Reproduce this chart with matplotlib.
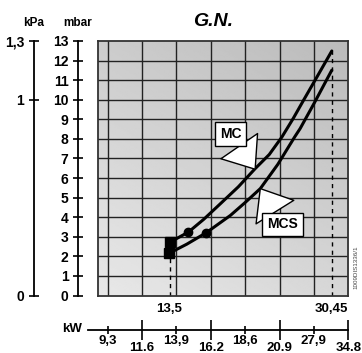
import numpy as np
import matplotlib
matplotlib.use("Agg")
import matplotlib.pyplot as plt

plt.rcParams['font.family'] = ['Liberation Sans', 'DejaVu Sans']
plt.rcParams['font.weight'] = 'bold'

# bottom kW scale is not linear, labels just sit on the grid columns
kw_pos_top = [0, 2, 4, 6]
kw_lab_top = ["9,3", "13,9", "18,6", "27,9"]
kw_pos_bot = [1, 3, 5, 7]
kw_lab_bot = ["11.6", "16.2", "20.9", "34.8"]

mbar_ticks = list(range(0, 14))
kpa_ticks = [0, 1, 1.3]
kpa_labels = ["0", "1", "1,3"]

# marks (x = grid column, y = mbar)
kw_min_pos, kw_min_lab = 1.80, "13,5"
kw_max_pos, kw_max_lab = 6.52, "30,45"

mc_x = [1.82, 2.35, 2.80, 3.28, 3.80, 4.29, 4.70, 5.07, 5.40, 5.70, 6.10, 6.52]
mc_y = [2.73, 3.24, 3.90, 4.69, 5.55, 6.48, 7.20, 8.10, 9.05, 9.98, 11.20, 12.49]
mcs_x = [1.79, 2.30, 2.87, 3.57, 4.00, 4.44, 4.95, 5.44, 5.60, 6.00, 6.52]
mcs_y = [2.16, 2.62, 3.21, 4.09, 4.75, 5.46, 6.70, 8.10, 8.53, 9.80, 11.51]
mc_dot = (2.35, 3.24)
mcs_dot = (2.87, 3.21)

W, H = 362, 353
fig = plt.figure(figsize=(W/100, H/100), dpi=100)

def fx(px): return px / W
def fy(py): return 1 - py / H

L, R, T, B = 97.7, 348.3, 41, 295.5
ax = fig.add_axes([fx(L), fy(B), fx(R - L), (B - T) / H])
ax.set_xlim(-0.29, 7)
ax.set_ylim(0, 13)

# grey gradient background
u, v = np.meshgrid(np.linspace(0, 1, 200), np.linspace(0, 1, 200))
shade = 0.91 - 0.07 * u - 0.11 * v
ax.imshow(shade, cmap='gray', vmin=0, vmax=1, origin='lower',
          extent=(-0.29, 7, 0, 13), aspect='auto', zorder=0)

for gx in range(0, 7):
    ax.axvline(gx, color='#222222', lw=1.0, zorder=1)
for gy in range(1, 13):
    ax.axhline(gy, color='#222222', lw=1.0, zorder=1)
ax.set_xticks([])
ax.set_yticks([])
for s in ax.spines.values():
    s.set_color('#333333')
    s.set_linewidth(1.3)

# dashed limits
ax.plot([kw_min_pos, kw_min_pos], [0, mcs_y[0]], color='black', lw=1,
        ls=(0, (3, 3)), zorder=2)
ax.plot([kw_max_pos, kw_max_pos], [0, mc_y[-1]], color='black', lw=1,
        ls=(0, (3, 3)), zorder=2)

ax.plot(mc_x, mc_y, color='black', lw=2.2, zorder=3, solid_capstyle='round')
ax.plot(mcs_x, mcs_y, color='black', lw=2.2, zorder=3, solid_capstyle='round')
ax.plot([mc_x[0], mcs_x[0]], [mc_y[0], mcs_y[0]], 's', color='black', ms=6.5, zorder=4)
ax.plot([mc_dot[0], mcs_dot[0]], [mc_dot[1], mcs_dot[1]], 'o', color='black', ms=6, zorder=4)

box = dict(boxstyle='square,pad=0.35', fc='white', ec='black', lw=1)
wedge = dict(arrowstyle='wedge,tail_width=3.2,shrink_factor=0.5',
             fc='white', ec='black', lw=1, shrinkA=0, shrinkB=0)
ax.annotate("MC", xy=(4.29, 6.45), xytext=(3.58, 8.26), ha='center', va='center',
            fontsize=10, fontweight='bold', bbox=box, zorder=5, arrowprops=wedge)
ax.annotate("MCS", xy=(4.44, 5.46), xytext=(5.09, 3.63), ha='center', va='center',
            fontsize=10, fontweight='bold', bbox=box, zorder=5, arrowprops=wedge)

for pos, lab in [(kw_min_pos, kw_min_lab), (kw_max_pos, kw_max_lab)]:
    ax.annotate(lab, xy=(pos, 0), xycoords=('data', 'axes fraction'),
                xytext=(0, -13), textcoords='offset pixels', ha='center',
                va='center', fontsize=9.5, fontweight='bold')

# mbar axis
ax_m = fig.add_axes([fx(78.3), fy(B), 0.0001, (B - T) / H])
ax_m.set_ylim(0, 13)
ax_m.set_xticks([])
for k in ['top', 'right', 'bottom']:
    ax_m.spines[k].set_visible(False)
ax_m.spines['left'].set_linewidth(1.3)
ax_m.set_yticks(mbar_ticks)
ax_m.tick_params(axis='y', direction='inout', length=7, width=1.2, pad=3.5, labelsize=10)
ax_m.patch.set_visible(False)

# kPa axis
ax_k = fig.add_axes([fx(34), fy(B), 0.0001, (B - T) / H])
ax_k.set_ylim(0, 1.3)
ax_k.set_xticks([])
for k in ['top', 'right', 'bottom']:
    ax_k.spines[k].set_visible(False)
ax_k.spines['left'].set_linewidth(1.3)
ax_k.set_yticks(kpa_ticks)
ax_k.set_yticklabels(kpa_labels)
ax_k.tick_params(axis='y', direction='inout', length=7, width=1.2, pad=3.5, labelsize=10)
ax_k.patch.set_visible(False)

fig.text(fx(34), fy(22.5), "kPa", ha='center', va='center', fontsize=8.5, fontweight='bold')
fig.text(fx(78), fy(22.5), "mbar", ha='center', va='center', fontsize=8.5, fontweight='bold')
fig.text(fx(213), fy(21.5), "G.N.", ha='center', va='center', fontsize=14,
         fontweight='bold', fontstyle='italic')

# kW axis
ax_w = fig.add_axes([fx(88), fy(330), fx(R - 88), 0.0001])
ax_w.set_xlim(-0.29 - (L - 88) / 34.38, 7)
ax_w.set_yticks([])
for k in ['top', 'right', 'left']:
    ax_w.spines[k].set_visible(False)
ax_w.spines['bottom'].set_linewidth(1.3)
ax_w.patch.set_visible(False)
ax_w.set_xticks(kw_pos_top)
ax_w.set_xticklabels(kw_lab_top)
ax_w.set_xticks(kw_pos_bot, minor=True)
ax_w.set_xticklabels(kw_lab_bot, minor=True)
ax_w.tick_params(axis='x', which='major', direction='inout', length=6, width=1.2,
                 pad=0.5, labelsize=9.5)
ax_w.tick_params(axis='x', which='minor', direction='inout', length=14, width=1.2,
                 pad=1.5, labelsize=9.5)
fig.text(fx(72), fy(329), "kW", ha='center', va='center', fontsize=9.5, fontweight='bold')

fig.text(fx(356), fy(267), "1009DIS1336/1", rotation=90, ha='center', va='center',
         fontsize=4.5, fontweight='normal', color='#444444')

fig.savefig("out.png", dpi=100)
